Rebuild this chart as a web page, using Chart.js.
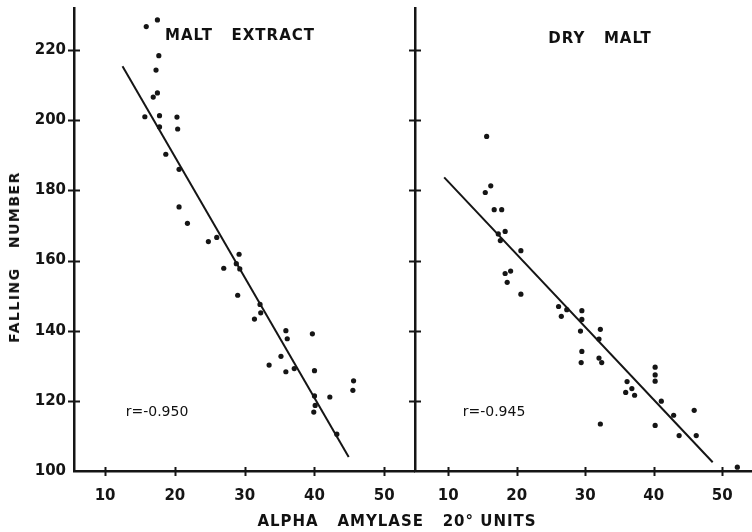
<!DOCTYPE html>
<html>
<head>
<meta charset="utf-8">
<script src="https://cdn.jsdelivr.net/npm/chart.js@4.4.0/dist/chart.umd.min.js"></script>
<style>
html,body{margin:0;padding:0;background:#fff;}
#wrap{position:relative;width:752px;height:532px;overflow:hidden;background:#fff;}
canvas{position:absolute;top:0;left:0;}
.t{position:absolute;font-family:"DejaVu Sans",sans-serif;color:#111;white-space:pre;transform:translate(-50%,-50%);line-height:1;}
.b{font-weight:bold;}
</style>
</head>
<body>
<div id="wrap">
  <div style="position:absolute;left:0;top:0;width:415px;height:532px"><canvas id="c1" width="415" height="532"></canvas></div>
  <div style="position:absolute;left:400px;top:0;width:352px;height:532px"><canvas id="c2" width="352" height="532"></canvas></div>
  <div class="t b" style="left:14px;top:257px;font-size:14px;letter-spacing:1.5px;transform:translate(-50%,-50%) rotate(-90deg);">FALLING   NUMBER</div>
  <div class="t b" style="left:397px;top:521px;font-size:15px;letter-spacing:1px;">ALPHA   AMYLASE   20° UNITS</div>
  <div class="t b" style="left:240px;top:35px;font-size:15px;letter-spacing:1px;">MALT   EXTRACT</div>
  <div class="t b" style="left:600px;top:38px;font-size:15px;letter-spacing:1px;">DRY   MALT</div>
  <div class="t" style="left:157px;top:411px;font-size:14px;">r=-0.950</div>
  <div class="t" style="left:494px;top:411px;font-size:14px;">r=-0.945</div>
</div>
<script>
// ---- data ----
const xTicks = [10, 20, 30, 40, 50];
const yTicks = [100, 120, 140, 160, 180, 200, 220];

const maltX = [15.9, 17.5, 17.7, 17.3, 17.5, 16.9, 15.7, 17.8, 20.3, 17.8, 20.4, 18.7, 20.6, 20.6, 21.8,
               24.8, 26.0, 29.2, 28.8, 29.3, 27.0, 29.0, 32.2, 32.3, 31.4, 35.9, 36.1, 39.7, 35.2, 33.5,
               35.9, 37.1, 40.0, 45.6, 45.5, 40.0, 42.2, 40.1, 39.9, 43.2];
const maltY = [226.7, 228.6, 218.4, 214.3, 207.8, 206.6, 201.0, 201.3, 200.9, 198.1, 197.5, 190.3, 186.0, 175.3, 170.6,
               165.4, 166.6, 161.8, 159.1, 157.6, 157.8, 150.1, 147.5, 145.1, 143.3, 140.0, 137.7, 139.1, 132.7, 130.2,
               128.3, 129.2, 128.6, 125.7, 123.0, 121.4, 121.1, 118.7, 116.8, 110.5];
const maltFitX = [12.5, 44.9];
const maltFitY = [215.4, 104.0];

const dryX = [15.6, 16.2, 15.4, 16.7, 17.8, 18.3, 17.3, 17.6, 20.6, 18.3, 19.1, 18.6, 20.6, 26.1, 27.3,
              26.5, 29.5, 29.5, 29.3, 32.2, 32.0, 29.5, 29.4, 32.0, 32.4, 32.2, 36.1, 35.9, 36.8, 37.2,
              40.2, 40.2, 40.2, 41.1, 40.2, 42.9, 43.7, 45.9, 46.2, 52.2];
const dryY = [195.4, 181.3, 179.4, 174.5, 174.5, 168.3, 167.6, 165.7, 162.8, 156.3, 157.0, 153.8, 150.4, 146.9, 146.0,
              144.1, 145.7, 143.2, 139.9, 140.4, 137.6, 134.1, 130.9, 132.2, 130.9, 113.4, 125.5, 122.4, 123.5, 121.6,
              129.6, 127.4, 125.6, 119.9, 113.0, 115.9, 110.1, 117.3, 110.1, 101.1];
const dryFitX = [9.4, 48.6];
const dryFitY = [183.7, 102.5];

// ---- helpers ----
const INK = '#151515';
const pts = (xs, ys) => xs.map((x, i) => ({x: x, y: ys[i]}));

const crossTicks = {
  id: 'crossTicks',
  afterDraw(chart) {
    const ctx = chart.ctx;
    const area = chart.chartArea;
    ctx.save();
    ctx.strokeStyle = INK;
    ctx.lineWidth = 2;
    const xs = chart.scales.x, ys = chart.scales.y;
    xs.ticks.forEach(t => {
      const p = Math.round(xs.getPixelForValue(t.value)) + 0.5;
      ctx.beginPath(); ctx.moveTo(p, area.bottom - 4); ctx.lineTo(p, area.bottom + 5); ctx.stroke();
    });
    ys.ticks.forEach(t => {
      if (t.value === ys.min) return;
      const p = Math.round(ys.getPixelForValue(t.value)) + 0.5;
      ctx.beginPath(); ctx.moveTo(area.left - 6, p); ctx.lineTo(area.left + 6, p); ctx.stroke();
    });
    ctx.restore();
  }
};

function makeChart(id, xs, ys, fx, fy, xmin, xmax, leftW, showY) {
  return new Chart(document.getElementById(id), {
    type: 'scatter',
    data: {
      datasets: [
        {data: pts(xs, ys), pointRadius: 2.6, pointHoverRadius: 2.6, backgroundColor: INK, borderWidth: 0},
        {type: 'line', data: pts(fx, fy), showLine: true, pointRadius: 0, borderColor: INK, borderWidth: 2, fill: false, tension: 0}
      ]
    },
    options: {
      responsive: false,
      devicePixelRatio: 1,
      animation: false,
      events: [],
      layout: {autoPadding: false, padding: {top: 8, left: 0, right: 0, bottom: 0}},
      plugins: {legend: {display: false}, tooltip: {enabled: false}},
      scales: {
        x: {
          type: 'linear', min: xmin, max: xmax,
          afterBuildTicks: s => { s.ticks = xTicks.map(v => ({value: v})); },
          afterFit: s => { s.height = 61; s.paddingLeft = 0; s.paddingRight = 0; },
          grid: {display: false, drawTicks: false},
          border: {display: true, width: 2.5, color: INK},
          ticks: {color: INK, padding: 16, font: {family: 'DejaVu Sans', size: 15, weight: 'bold'}}
        },
        y: {
          type: 'linear', min: 100, max: 232,
          afterBuildTicks: s => { s.ticks = yTicks.map(v => ({value: v})); },
          afterFit: s => { s.width = leftW; s.paddingTop = 0; s.paddingBottom = 0; },
          grid: {display: false, drawTicks: false},
          border: {display: true, width: 2.5, color: INK},
          ticks: {display: showY, color: INK, padding: 8, font: {family: 'DejaVu Sans', size: 15, weight: 'bold'}}
        }
      }
    },
    plugins: [crossTicks]
  });
}

makeChart('c1', maltX, maltY, maltFitX, maltFitY, 5.55, 54.4, 74, true);
makeChart('c2', dryX, dryY, dryFitX, dryFitY, 5.14, 54.34, 15, false);
</script>
</body>
</html>
